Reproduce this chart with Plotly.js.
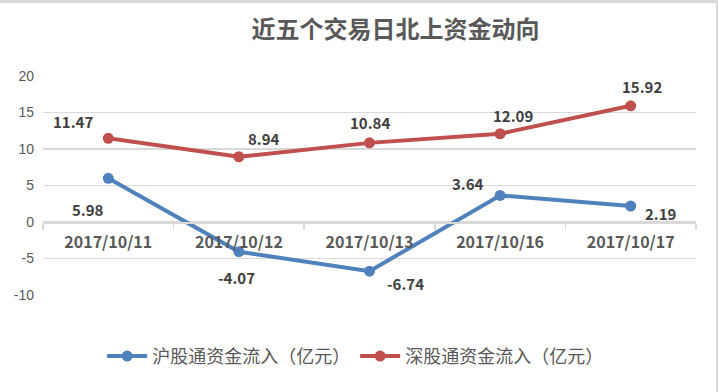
<!DOCTYPE html>
<html><head><meta charset="utf-8">
<script src="https://cdn.plot.ly/plotly-3.0.1.min.js"></script>
<style>
html,body{margin:0;padding:0;background:#fff;}
#wrap{position:relative;width:718px;height:392px;overflow:hidden;}
#chart{width:718px;height:392px;}
#frame{position:absolute;left:0;top:0;height:392px;border-top:3px solid #d9d9d9;border-right:2px solid #d9d9d9;box-sizing:border-box;width:718px;pointer-events:none;}
</style></head>
<body>
<div id="wrap"><div id="chart"></div><div id="frame"></div></div>
<script>
const titleText = '近五个交易日北上资金动向';
const dates = ['2017/10/11','2017/10/12','2017/10/13','2017/10/16','2017/10/17'];
const shName = '沪股通资金流入（亿元）';
const szName = '深股通资金流入（亿元）';
const shValues = [5.98, -4.07, -6.74, 3.64, 2.19];
const szValues = [11.47, 8.94, 10.84, 12.09, 15.92];
const yTicks = [-10, -5, 0, 5, 10, 15, 20];

const shOffsets = [[-20, -31], [-2, -26], [36, -12], [-32, 12], [30, -7]];
const szOffsets = [[-35, 17], [25, 18], [0, 20], [13, 18], [11, 19]];

const font = 'Microsoft YaHei, "Noto Sans CJK SC", "DejaVu Sans", sans-serif';
const blue = '#4f81bd', red = '#c0504d';

const traces = [
  {x: dates, y: shValues, name: shName, type: 'scatter', mode: 'lines+markers',
   line: {color: blue, width: 4}, marker: {color: blue, size: 11}},
  {x: dates, y: szValues, name: szName, type: 'scatter', mode: 'lines+markers',
   line: {color: red, width: 4}, marker: {color: red, size: 11}}
];

const annotations = [];
function addLabels(vals, offs) {
  vals.forEach((v, i) => annotations.push({
    x: dates[i], y: v, xref: 'x', yref: 'y', text: v.toFixed(2), showarrow: false,
    xshift: offs[i][0], yshift: offs[i][1],
    font: {family: font, size: 15, color: '#404040', weight: 'bold'}
  }));
}
addLabels(shValues, shOffsets);
addLabels(szValues, szOffsets);

const layout = {
  width: 718, height: 392,
  margin: {l: 43, r: 22, t: 76, b: 97},
  paper_bgcolor: '#fff', plot_bgcolor: '#fff',
  title: {text: titleText, x: 0.551, xanchor: 'center', y: 0.925, yanchor: 'middle',
          font: {family: font, size: 24, color: '#595959', weight: 'bold'}},
  showlegend: true,
  legend: {orientation: 'h', x: 0.478, xanchor: 'center', y: -0.28, yanchor: 'middle',
           font: {family: font, size: 18, color: '#595959'}, itemwidth: 40, tracegroupgap: 0},
  xaxis: {type: 'category', range: [-0.5, 4.5], anchor: 'free', position: 73/219,
          showline: true, linecolor: '#d9d9d9', linewidth: 1.5,
          ticks: 'outside', tickson: 'boundaries', ticklen: 6, tickcolor: '#d9d9d9', tickwidth: 1.5,
          ticklabelstandoff: 5,
          showgrid: false, zeroline: false, fixedrange: true,
          tickfont: {family: font, size: 16, color: '#595959', weight: 'bold'}},
  yaxis: {range: [-10, 20], tickvals: yTicks, ticktext: yTicks.map(String),
          showgrid: true, gridcolor: '#d9d9d9', gridwidth: 1.5,
          zeroline: false, showline: false, ticks: '', ticklabelstandoff: 8,
          tickfont: {family: '"Liberation Sans", Arial, sans-serif', size: 14, color: '#595959'}},
  annotations: annotations
};

Plotly.newPlot('chart', traces, layout, {displayModeBar: false, staticPlot: true});
</script>
</body></html>
